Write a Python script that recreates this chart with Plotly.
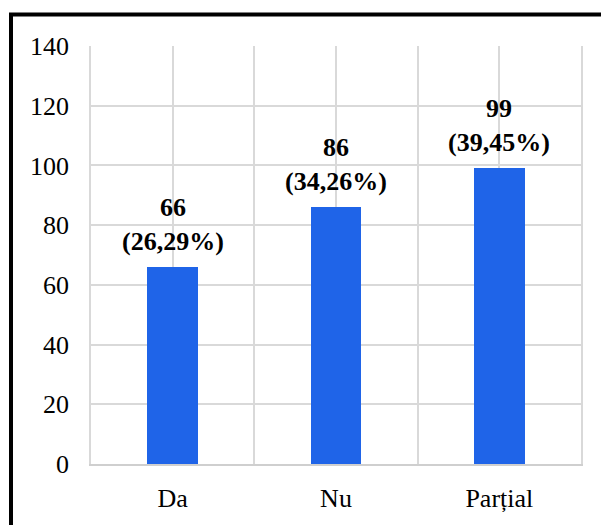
import plotly.graph_objects as go

categories = ["Da", "Nu", "Parțial"]
values = [66, 86, 99]
percents = ["26,29%", "34,26%", "39,45%"]
y_ticks = [0, 20, 40, 60, 80, 100, 120, 140]

FONT = "Times New Roman, Liberation Serif, serif"
GRID = "#d9d9d9"
FS = 26

x_pos = list(range(len(categories)))

fig = go.Figure()
fig.add_trace(go.Bar(
    x=x_pos, y=values, width=0.31,
    marker=dict(color="#1F64E8", line=dict(width=0)),
    hoverinfo="skip",
))

for xi, v, p in zip(x_pos, values, percents):
    fig.add_annotation(
        x=xi, y=v, xref="x", yref="y",
        text=f"<b>{v}</b><br><b>({p})</b>",
        showarrow=False, yanchor="bottom", yshift=9,
        font=dict(family=FONT, size=FS, color="#000000"),
    )

fig.update_layout(
    width=601, height=525,
    margin=dict(l=91, r=20, t=46, b=61),
    paper_bgcolor="white", plot_bgcolor="white",
    showlegend=False,
    font=dict(family=FONT, size=FS, color="#000000"),
    bargap=0,
)
fig.update_xaxes(
    range=[-0.5, 2.5],
    tickmode="array", tickvals=x_pos, ticktext=categories,
    showgrid=True, gridcolor=GRID, gridwidth=1.5,
    minor=dict(tickmode="array", tickvals=[-0.5, 0.5, 1.5, 2.5],
               showgrid=True, gridcolor=GRID, gridwidth=1.5, ticks=""),
    ticks="", ticklabelstandoff=10,
    showline=True, linecolor="#cfcfcf", linewidth=2,
    tickfont=dict(family=FONT, size=FS),
    zeroline=False, fixedrange=True, automargin=False,
)
fig.update_yaxes(
    range=[0, 140],
    tickmode="array", tickvals=y_ticks,
    showgrid=True, gridcolor=GRID, gridwidth=1.5,
    ticks="", ticklabelstandoff=15,
    showline=True, linecolor=GRID, linewidth=1.5, mirror=True,
    zeroline=False,
    tickfont=dict(family=FONT, size=FS),
    fixedrange=True, automargin=False,
)

# outer black frame (partially outside the picture, as in the reference)
W, H = 601, 525
l, r, t, b = 91, 20, 46, 61
pw, ph = W - l - r, H - t - b
def px_to_paper_x(px):
    return (px - l) / pw
def px_to_paper_y(py):
    return (H - b - py) / ph
fig.add_shape(
    type="rect", xref="paper", yref="paper",
    x0=px_to_paper_x(11), x1=px_to_paper_x(640),
    y0=px_to_paper_y(560), y1=px_to_paper_y(14.5),
    line=dict(color="black", width=4), fillcolor="rgba(0,0,0,0)",
    layer="above",
)

fig.write_html(
    "out.html",
    config={"displayModeBar": False},
    post_script="document.body.style.margin='0';document.body.style.overflow='hidden';",
)
